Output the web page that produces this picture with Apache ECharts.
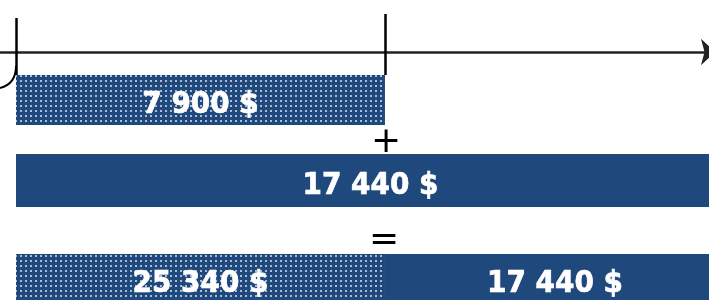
<!DOCTYPE html>
<html>
<head>
<meta charset="utf-8">
<script src="https://cdn.jsdelivr.net/npm/echarts@6/dist/echarts.min.js"></script>
<style>
  html,body{margin:0;padding:0;background:#fff;}
  #chart{width:709px;height:300px;}
</style>
</head>
<body>
<div id="chart"></div>
<script>
// montants (en $) des trois lignes : achat, ajout, total
var dottedValues = [7900, null, 7900];
var dottedLabels = ['7 900 $', '', '25 340 $'];
var solidValues  = [null, 17440, 17440];
var solidLabels  = ['', '17 440 $', '17 440 $'];
var timelineTicks = [0, 7900];
var tickTops = [34, 38];            // haut des traits verticaux (unités de l'axe y caché)
var operators = ['+', '='];

var AXIS_MIN = -343, AXIS_MAX = 15180;   // valeur 0 à x=16, 7 900 à x=385
var BLUE = '#1f497d';
var dots = {
  symbol: 'circle', symbolSize: 1, color: 'rgba(255,255,255,0.85)',
  dashArrayX: [1.8, 2.5], dashArrayY: [1.8, 2.5], rotation: 0
};
var lblStyle = {
  show: true, position: 'inside', offset: [0, 5], color: '#fff', fontSize: 31, fontWeight: 'bold',
  fontFamily: '"DejaVu Sans Condensed", "DejaVu Sans", sans-serif',
  textBorderColor: '#fff', textBorderWidth: 0.7
};

// une grille par ligne de barres + une pour l'axe du temps
var rows = [{top: 75, height: 50}, {top: 154, height: 53}, {top: 254, height: 50}];
var grids = [{left: 0, width: 725, top: 14, height: 61, outerBoundsMode: 'none'}];
var xAxes = [{
  gridIndex: 0, type: 'value', min: AXIS_MIN, max: AXIS_MAX,
  axisLine: {show: true, onZero: true, symbol: ['none', 'arrow'], symbolSize: [20, 14],
    symbolOffset: [0, -10], lineStyle: {color: '#222', width: 2.5}},
  axisTick: {show: false}, axisLabel: {show: false}, splitLine: {show: false}
}];
var yAxes = [{gridIndex: 0, type: 'value', min: -23, max: 38, show: false}];
var series = [{
  type: 'line', xAxisIndex: 0, yAxisIndex: 0, data: [], silent: true,
  markLine: {
    symbol: 'none', silent: true, label: {show: false},
    lineStyle: {color: '#000', width: 2.5, type: 'solid'},
    data: timelineTicks.map(function (v, i) {
      return [{xAxis: v, yAxis: tickTops[i]}, {xAxis: v, yAxis: -23}];
    })
  }
}];

rows.forEach(function (r, i) {
  var g = i + 1;
  grids.push({left: 16, width: 709, top: r.top, height: r.height, outerBoundsMode: 'none'});
  xAxes.push({gridIndex: g, type: 'value', min: 0, max: AXIS_MAX, show: false});
  yAxes.push({gridIndex: g, type: 'category', data: ['r' + i], show: false});
  if (dottedValues[i] != null) {
    series.push({
      type: 'bar', xAxisIndex: g, yAxisIndex: g, stack: 's' + i, barWidth: '100%',
      data: [dottedValues[i]], itemStyle: {color: BLUE, decal: dots},
      label: Object.assign({formatter: dottedLabels[i]}, lblStyle)
    });
  }
  if (solidValues[i] != null) {
    series.push({
      type: 'bar', xAxisIndex: g, yAxisIndex: g, stack: 's' + i, barWidth: '100%',
      data: [solidValues[i]], itemStyle: {color: BLUE},
      label: Object.assign({formatter: solidLabels[i]}, lblStyle)
    });
  }
});

var chart = echarts.init(document.getElementById('chart'));
chart.setOption({
  animation: false,
  grid: grids, xAxis: xAxes, yAxis: yAxes, series: series,
  graphic: [
    {type: 'bezierCurve', shape: {x1: 16, y1: 66, cpx1: 16, cpy1: 84, x2: 0, y2: 88},
      style: {stroke: '#000', lineWidth: 2, fill: null}},
    {type: 'text', x: 386, y: 143, style: {text: operators[0], fill: '#000', fontSize: 36,
      fontFamily: '"DejaVu Sans", sans-serif', textAlign: 'center', textVerticalAlign: 'middle'}},
    {type: 'text', x: 384, y: 241, style: {text: operators[1], fill: '#000', fontSize: 36,
      fontFamily: '"DejaVu Sans", sans-serif', textAlign: 'center', textVerticalAlign: 'middle'}}
  ]
});
</script>
</body>
</html>
